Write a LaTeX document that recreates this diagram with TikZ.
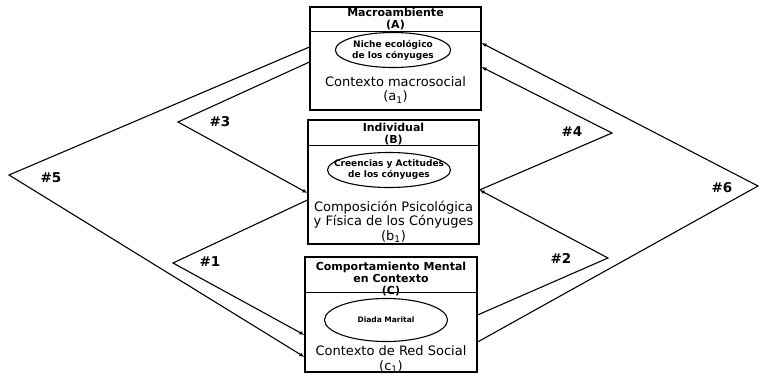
\documentclass[tikz,border=0pt]{standalone}
\usepackage{fontspec}
\setmainfont{DejaVu Sans}
\usetikzlibrary{arrows.meta,shapes.geometric,positioning}

\tikzset{
  box/.style={draw, rectangle, inner sep=0pt},
  head/.style={align=center, inner sep=0pt, font=\bfseries\fontsize{11}{12}\selectfont},
  body/.style={align=center, inner sep=0pt, font=\fontsize{13}{14.5}\selectfont},
  oval/.style={draw, ellipse, inner sep=0pt, align=center, font=\bfseries\fontsize{9}{11}\selectfont},
  flow/.style={-{Latex[length=5pt,width=4pt]}},
  tag/.style={inner sep=0pt, font=\bfseries\fontsize{13.5}{13.5}\selectfont}
}

\begin{document}
\begin{tikzpicture}[x=1pt, y=-1pt, line width=1.1pt]
    \useasboundingbox (0,0) rectangle (759,374);

    % Draw the boxes
    \node[box, minimum width=171pt, minimum height=103pt] (A) at (395.5,58.5) {};
    \node[box, minimum width=171pt, minimum height=124pt] (B) at (393.5,182) {};
    \node[box, minimum width=172pt, minimum height=115pt] (C) at (391,314.5) {};

    % Draw the header lines
    \draw ([yshift=-25pt]A.north west) -- ([yshift=-25pt]A.north east);
    \draw ([yshift=-26pt]B.north west) -- ([yshift=-26pt]B.north east);
    \draw ([yshift=-36pt]C.north west) -- ([yshift=-36pt]C.north east);

    % Texts of box A
    \node[head] (hA) at (395.5,19) {Macroambiente\\(A)};
    \node[oval, minimum width=114pt, minimum height=35pt] (eA) at (393,50) {Niche ecológico\\de los cónyuges};
    \node[body] (tA) at (395.5,90) {Contexto macrosocial\\(a\textsubscript{1})};

    % Texts of box B
    \node[head] (hB) at (393.5,134.5) {Individual\\(B)};
    \node[oval, inner xsep=-13pt, minimum width=123pt, minimum height=35pt] (eB) at (389,170) {Creencias y Actitudes\\de los cónyuges};
    \node[body] (tB) at (393.5,222) {Composición Psicológica\\y Física de los Cónyuges\\(b\textsubscript{1})};

    % Texts of box C
    \node[head] (hC) at (391,279) {Comportamiento Mental\\en Contexto\\(C)};
    \node[oval, minimum width=123pt, minimum height=43pt, font=\bfseries\fontsize{7.5}{9}\selectfont] (eC) at (386,320) {Diada Marital};
    \node[body] (tC) at (391,359.5) {Contexto de Red Social\\(c\textsubscript{1})};

    % Corners of the connectors
    \coordinate (p5) at (9,175);
    \coordinate (p3) at (178,122);
    \coordinate (p1) at (173,263);
    \coordinate (p6) at (758,186);
    \coordinate (p4) at (612,133);
    \coordinate (p2) at (608,258);

    % Draw the connectors on the left
    \draw[flow] ([yshift=11.5pt]A.west) -- (p5) -- ([yshift=-42.5pt]C.west);
    \draw[flow] ([yshift=-3.5pt]A.west) -- (p3) -- ([yshift=-11pt]B.west);
    \draw[flow] ([yshift=-18pt]B.west) -- (p1) -- ([yshift=-20.5pt]C.west);

    % Draw the connectors on the right
    \draw[flow] ([yshift=-27.5pt]C.east) -- (p6) -- ([yshift=15.5pt]A.east);
    \draw[flow] ([yshift=-8pt]B.east) -- (p4) -- ([yshift=-8.5pt]A.east);
    \draw[flow] ([yshift=-0.5pt]C.east) -- (p2) -- ([yshift=-8pt]B.east);

    % Labels of the connectors
    \node[tag] (l5) at (51,178) {\#5};
    \node[tag] (l3) at (220,122) {\#3};
    \node[tag] (l1) at (210,262) {\#1};
    \node[tag] (l6) at (722,188) {\#6};
    \node[tag] (l4) at (572,132) {\#4};
    \node[tag] (l2) at (561,258) {\#2};

\end{tikzpicture}
\end{document}
